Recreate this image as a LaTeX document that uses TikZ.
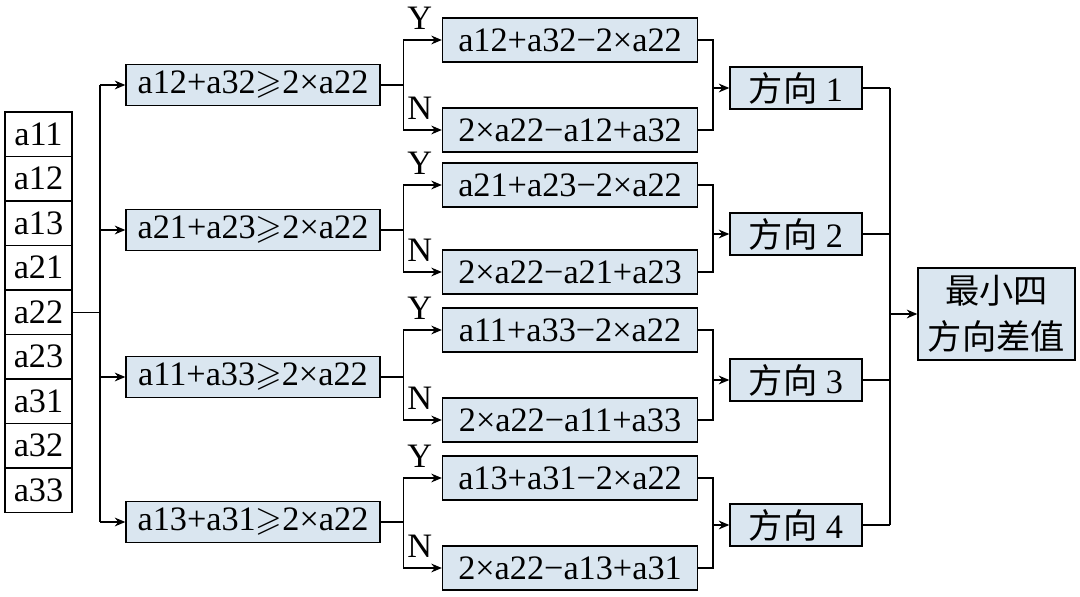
\documentclass[tikz,border=0pt]{standalone}
\usepackage{amssymb}
\usepackage{fontspec}
\setmainfont{Liberation Serif}
\newfontfamily\cjk{Noto Sans CJK SC}
\usetikzlibrary{arrows.meta}
\definecolor{boxblue}{RGB}{218,230,240}
\begin{document}
\begin{tikzpicture}[x=0.02cm, y=-0.02cm, >={Stealth[length=6pt,width=5pt]},
  every node/.style={font=\fontsize{19.5}{22}\selectfont, inner sep=0pt},
  cell/.style={draw, line width=0.8pt, minimum width=1.34cm, minimum height=0.89cm},
  cond/.style={draw, line width=0.8pt, fill=boxblue, minimum width=5.08cm, minimum height=0.82cm},
  res/.style={draw, line width=0.8pt, fill=boxblue, minimum width=5.1cm, minimum height=0.88cm},
  dir/.style={draw, line width=0.8pt, fill=boxblue, minimum width=2.64cm, minimum height=0.84cm},
  line/.style={line width=0.8pt}]
\useasboundingbox (0,0) rectangle (1080,597);
% input column
\foreach \n [count=\i] in {a11,a12,a13,a21,a22,a23,a31,a32,a33}
  \node[cell] (\n) at (38.5,{112+44.5*(\i-0.5)}) {\n};
% conditions
\node[cond] (c1) at (253,85)  {a12+a32$\geqslant$2×a22};
\node[cond] (c2) at (253,230) {a21+a23$\geqslant$2×a22};
\node[cond] (c3) at (253,377) {a11+a33$\geqslant$2×a22};
\node[cond] (c4) at (253,522) {a13+a31$\geqslant$2×a22};
% results
\node[res] (y1) at (570,40)  {a12+a32−2×a22};
\node[res] (n1) at (570,130) {2×a22−a12+a32};
\node[res] (y2) at (570,185) {a21+a23−2×a22};
\node[res] (n2) at (570,272) {2×a22−a21+a23};
\node[res] (y3) at (570,330) {a11+a33−2×a22};
\node[res] (n3) at (570,420) {2×a22−a11+a33};
\node[res] (y4) at (570,478) {a13+a31−2×a22};
\node[res] (n4) at (570,568) {2×a22−a13+a31};
% directions
\node[dir] (d1) at (796,88)  {{\cjk 方向} 1};
\node[dir] (d2) at (796,234) {{\cjk 方向} 2};
\node[dir] (d3) at (796,380) {{\cjk 方向} 3};
\node[dir] (d4) at (796,525) {{\cjk 方向} 4};
\node[draw, line width=0.8pt, fill=boxblue, minimum width=3.14cm, minimum height=1.84cm,
  align=center, font=\cjk\fontsize{19.5}{26}\selectfont] (min) at (996.5,314) {最小四\\方向差值};
% connectors
\coordinate (inbus) at (100,0 |- a22);
\draw[line] (a22.east) -- (inbus);
\draw[line] (100,85) -- (100,522);
\foreach \k in {1,...,4} {
  \draw[line,->] (inbus |- c\k) -- (c\k.west);
  \coordinate (br\k) at ([xshift=23*0.02cm]c\k.east);
  \draw[line] (c\k.east) -- (br\k);
  \draw[line,->] (br\k) |- (y\k.west);
  \draw[line,->] (br\k) |- (n\k.west);
  \node[anchor=south] at ([xshift=-22*0.02cm,yshift=6pt]y\k.west) {Y};
  \node[anchor=south] at ([xshift=-22*0.02cm,yshift=6pt]n\k.west) {N};
  \coordinate (mg\k) at ([xshift=15*0.02cm]y\k.east |- d\k);
  \draw[line] (y\k.east) -| (mg\k) |- (n\k.east);
  \draw[line,->] (mg\k) -- (d\k.west);
  \draw[line] (d\k.east) -- (890,0 |- d\k);
}
\draw[line] (890,88) -- (890,525);
\draw[line,->] (890,314) -- (min.west);
\end{tikzpicture}
\end{document}
